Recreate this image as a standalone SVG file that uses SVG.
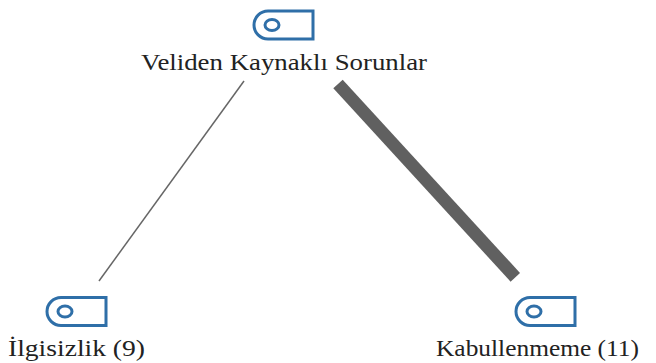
<svg xmlns="http://www.w3.org/2000/svg" width="656" height="363" viewBox="0 0 656 363">
<defs>
<g id="ic"><path d="M29 -14V14H-16A14 14 0 0 1 -16 -14Z" fill="#fff" stroke="#2f6fa8" stroke-width="3"/><ellipse cx="-12" cy="0" rx="7" ry="5.500" fill="#fff" stroke="#2f6fa8" stroke-width="3"/></g>
</defs>
<style>text{font-family:"Liberation Serif",serif;font-size:23px;fill:#222}</style>
<rect width="656" height="363" fill="#fff"/>
<g id="connectors">
<line x1="244" y1="81" x2="99" y2="281" stroke="#666" stroke-width="1.500"/>
<line x1="338" y1="84" x2="515.300" y2="277.300" stroke="#606060" stroke-width="12.800"/>
</g>
<g id="n1"><use href="#ic" x="284" y="25"/><text x="141" y="70" textLength="286" lengthAdjust="spacingAndGlyphs">Veliden Kaynaklı Sorunlar</text></g>
<g id="n2"><use href="#ic" x="77" y="311.500"/><text x="8" y="356" textLength="137" lengthAdjust="spacingAndGlyphs">İlgisizlik (9)</text></g>
<g id="n3"><use href="#ic" x="546" y="311.500"/><text x="436" y="356" textLength="203" lengthAdjust="spacingAndGlyphs">Kabullenmeme (11)</text></g>
</svg>
